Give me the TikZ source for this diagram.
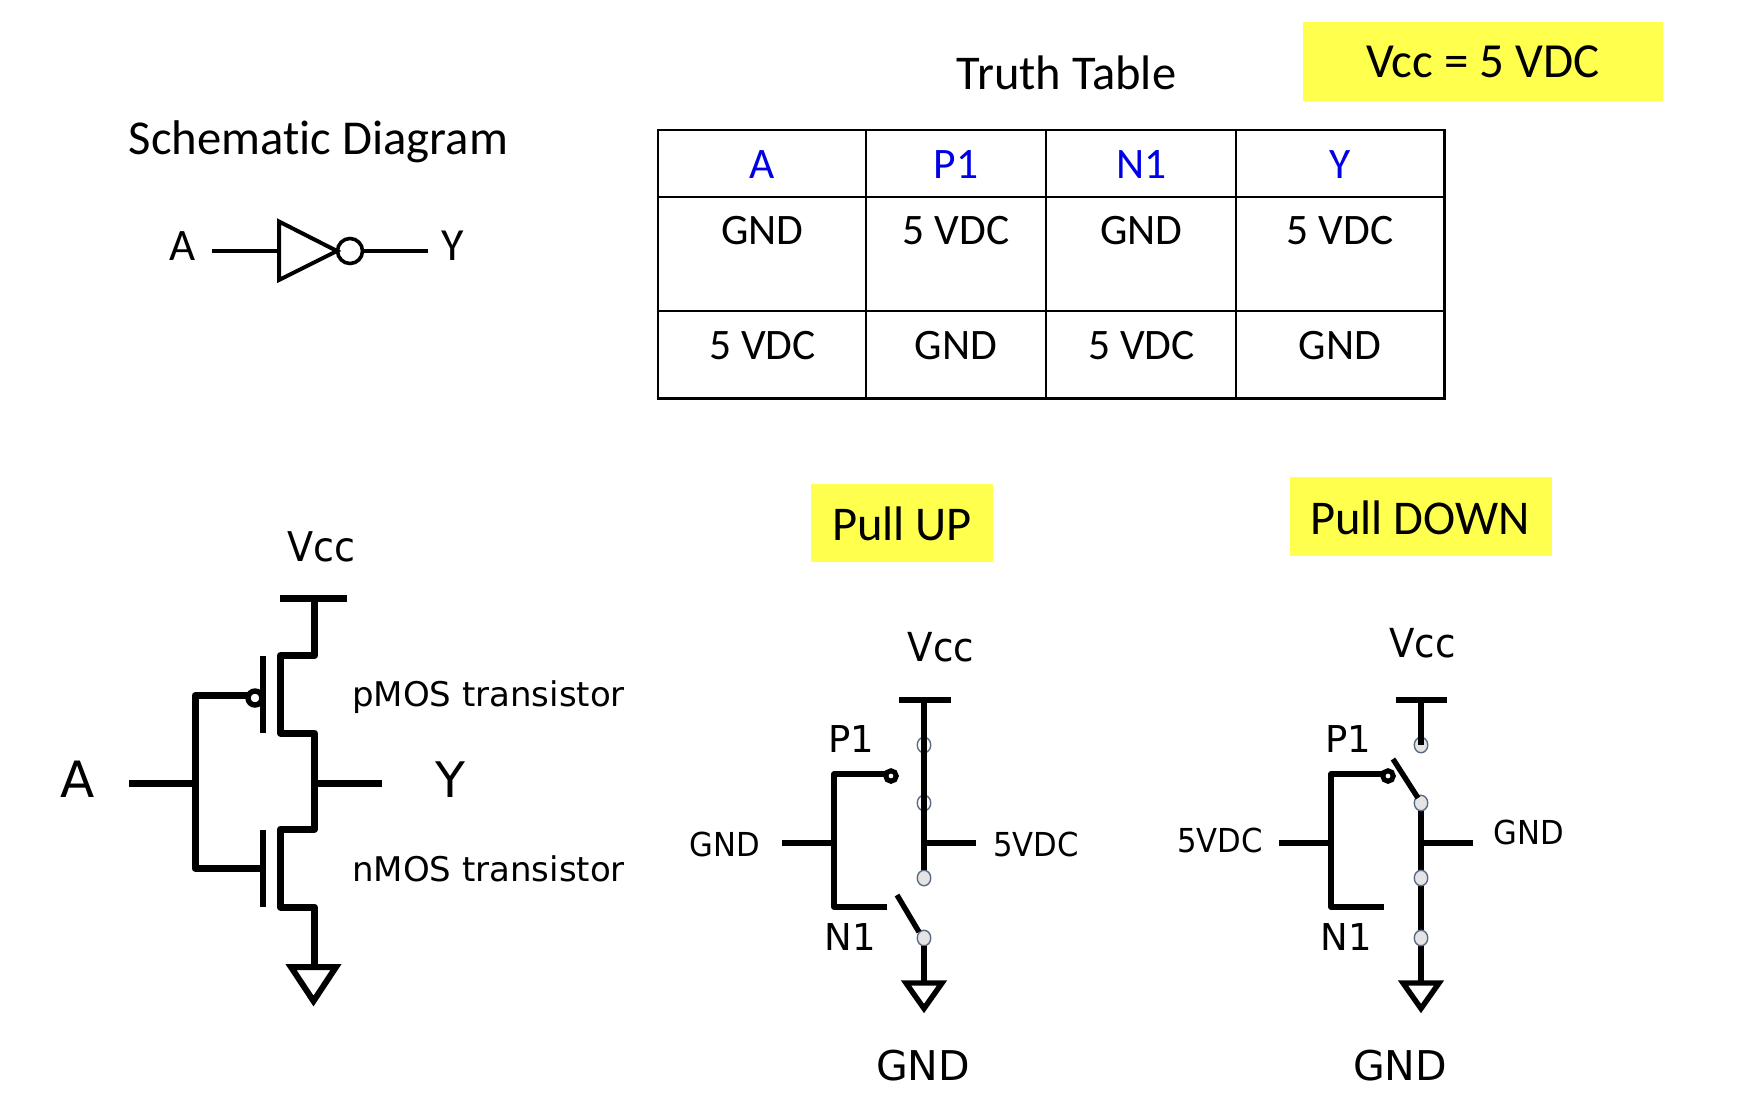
\documentclass[tikz,border=0pt]{standalone}
\usepackage{fontspec}
\usetikzlibrary{shapes.geometric}
\newfontfamily\carlito[Ligatures=NoCommon]{Carlito}
\newfontfamily\tahomaish[FakeStretch=0.93]{DejaVu Sans}
\newfontfamily\tahomawide{DejaVu Sans}
\definecolor{hl}{HTML}{FFFF4D}
\definecolor{tblue}{HTML}{0000E6}
\definecolor{dotedge}{HTML}{5A6A85}
\definecolor{dotfill}{HTML}{E4E4E4}
\tikzset{
  x=1pt,y=-1pt,
  cal/.style={inner sep=0pt,anchor=base,font=\carlito\fontsize{#1}{#1}\selectfont},
  tah/.style={inner sep=0pt,anchor=base,font=\tahomaish\fontsize{#1}{#1}\selectfont},
  taw/.style={inner sep=0pt,anchor=base,font=\tahomawide\fontsize{#1}{#1}\selectfont},
  hlbox/.style={fill=hl,draw=none},
  heavy/.style={line width=7pt,line join=round},
  wire/.style={line width=5.4pt,line join=round},
  thinw/.style={line width=4pt,line join=miter},
  grid/.style={line width=2.8pt,line cap=rect},
  dot/.style={ellipse,draw=dotedge,fill=dotfill,line width=1.4pt,minimum width=13.5pt,minimum height=15.5pt,inner sep=0pt},
  bubble/.style={circle,draw=black,fill=white,inner sep=0pt},
  gnd/.style={line join=miter,miter limit=10},
}
\begin{document}
\begin{tikzpicture}
\useasboundingbox (0,0) rectangle (1740,1106);
% yellow boxes
\fill[hlbox] (1303,22) rectangle (1663,101);
\fill[hlbox] (811,484) rectangle (993,562);
\fill[hlbox] (1290,477) rectangle (1552,556);
% titles
\node[cal=48.7] (tSchem) at (318.5,154) {Schematic Diagram};
\node[cal=48.5] (tTruth) at (1066.5,89.5) {Truth Table};
\node[cal=49] (tVcc) at (1483,77) {Vcc = 5 VDC};
\node[cal=48.5] (tUp) at (902,540) {Pull UP};
\node[cal=48.5] (tDown) at (1420,534) {Pull DOWN};
% inverter
\node[cal=45] (iA) at (183,260.5) {A};
\node[cal=46] (iY) at (453,260.5) {Y};
\coordinate (iIn) at (212,251);
\coordinate (iTa) at (279,251);
\coordinate (iOut) at (428,251);
\node[bubble,line width=3.6pt,minimum size=25pt] (iB) at (350,251) {};
\draw[thinw] (iIn) -- (iTa);
\draw[thinw] (279,221.5) -- (279,280) -- (337,251) -- cycle;
\draw[thinw] (iB) -- (iOut);
% table
\foreach \xx in {658,866,1046,1236,1444.5} \draw[grid] (\xx,130) -- (\xx,398.5);
\foreach \yy in {130,197,311,398.5} \draw[grid] (658,\yy) -- (1444.5,\yy);
\node[cal=43.5,text=tblue] (h1) at (762.5,178) {A};
\node[cal=43.5,text=tblue] (h2) at (956,178) {P1};
\node[cal=43.5,text=tblue] (h3) at (1141.5,178) {N1};
\node[cal=43.5,text=tblue] (h4) at (1340,178) {Y};
\node[cal=43.5] (a1) at (762.5,244) {GND};
\node[cal=43.5] (a2) at (956,244) {5 VDC};
\node[cal=43.5] (a3) at (1141.5,244) {GND};
\node[cal=43.5] (a4) at (1340,244) {5 VDC};
\node[cal=43.5] (b1) at (762.5,359) {5 VDC};
\node[cal=43.5] (b2) at (956,359) {GND};
\node[cal=43.5] (b3) at (1141.5,359) {5 VDC};
\node[cal=43.5] (b4) at (1340,359) {GND};
% CMOS schematic
\node[tah=41] (mVcc) at (321.5,561) {Vcc};
\node[taw=50] (mA) at (77.5,797) {A};
\node[taw=49] (mY) at (450.5,797) {Y};
\node[taw=34] (mP) at (488.5,706) {pMOS transistor};
\node[taw=34] (mN) at (488.5,881) {nMOS transistor};
\coordinate (mT1) at (280,598);
\coordinate (mT2) at (347,598);
\coordinate (mTop) at (314.5,598);
\coordinate (mGnd) at (314.5,964);
\coordinate (mOut) at (314.5,783.5);
\coordinate (mOutE) at (382,783.5);
\coordinate (mInS) at (129,783.5);
\coordinate (mInJ) at (195,783.5);
\coordinate (mGp) at (256,695.5);
\coordinate (mGn) at (263,868);
\draw[heavy] (mT1) -- (mT2);
\draw[heavy] (mTop) |- (280.5,655.5) -- (280.5,733) -| (mOut) -- (314.5,829) -- (280.5,829) -- (280.5,907) -| (mGnd);
\draw[heavy] (mOut) -- (mOutE);
\draw[heavy] (mInS) -- (mInJ);
\draw[heavy] (mGp) -| (mInJ);
\draw[heavy] (mInJ) |- (mGn);
\node[bubble,line width=5.4pt,minimum size=14pt] (mBub) at (255,698) {};
\draw[line width=6.5pt] (263,656) -- (263,733);
\draw[line width=6.5pt] (263,830) -- (263,907);
\draw[gnd,line width=6pt] (291,967) -- (336,967) -- (313.5,1001) -- cycle;
% Pull up
\node[tah=40] (uVcc) at (941,661) {Vcc};
\node[taw=37] (uP) at (851.5,752) {P1};
\node[taw=37] (uN) at (850,950) {N1};
\node[tah=33] (uGl) at (724.5,856) {GND};
\node[tah=33] (uV) at (1036,856) {5VDC};
\node[taw=41] (uGb) at (923,1080) {GND};
\coordinate (uT1) at (899,700);
\coordinate (uT2) at (951,700);
\coordinate (uTop) at (924,700);
\coordinate (uJ) at (924,843);
\coordinate (uO) at (976,843);
\coordinate (uI) at (782,843);
\coordinate (uIJ) at (834,843);
\coordinate (uNe) at (887,907);
\coordinate (uNc) at (834,907);
\coordinate (uPe) at (886,774);
\coordinate (uPc) at (834,774);
\coordinate (uSw) at (897,895);
\coordinate (uGt) at (924,984);
\draw[wire] (uT1) -- (uT2);
\draw[wire] (uO) -- (uJ);
\draw[wire] (uI) -- (uIJ);
\node[dot] (u3) at (924,878) {};
\node[dot] (u4) at (924,938) {};
\node[dot,fill=white] (u1) at (924,745) {};
\node[dot,fill=white] (u2) at (924,803) {};
\draw[wire] (uTop) -- (u3.north);
\draw[wire] (uPe) -- (uPc) -- (uNc) -- (uNe);
\node[bubble,line width=5pt,minimum size=10.5pt] (uB) at (891,776) {};
\draw[wire,line cap=butt] (uSw) -- (919,932);
\draw[wire] (u4.south) -- (uGt);
\draw[gnd,line width=5.4pt] (906,983) -- (942,983) -- (924,1008.5) -- cycle;
% Pull down
\node[tah=40] (dVcc) at (1422.5,657) {Vcc};
\node[taw=37] (dP) at (1348.5,752) {P1};
\node[taw=37] (dN) at (1346.5,950) {N1};
\node[tah=33] (dV) at (1220,852) {5VDC};
\node[tah=33] (dGr) at (1528.5,844) {GND};
\node[taw=41] (dGb) at (1400,1080) {GND};
\coordinate (dT1) at (1396,700);
\coordinate (dT2) at (1447,700);
\coordinate (dTop) at (1421,700);
\coordinate (dJ) at (1421,843);
\coordinate (dO) at (1473,843);
\coordinate (dI) at (1279,843);
\coordinate (dIJ) at (1331,843);
\coordinate (dNe) at (1384,907);
\coordinate (dNc) at (1331,907);
\coordinate (dPe) at (1383,774);
\coordinate (dPc) at (1331,774);
\coordinate (dSw) at (1393,759);
\coordinate (dGt) at (1421,984);
\draw[wire] (dT1) -- (dT2);
\draw[wire] (dO) -- (dJ);
\draw[wire] (dI) -- (dIJ);
\draw[wire] (1421,803) -- (dGt);
\node[dot] (d1) at (1421,745) {};
\node[dot] (d2) at (1421,803) {};
\node[dot] (d3) at (1421,878) {};
\node[dot] (d4) at (1421,938) {};
\draw[wire] (dTop) -- (d1.center);
\draw[wire] (dPe) -- (dPc) -- (dNc) -- (dNe);
\node[bubble,line width=5pt,minimum size=10.5pt] (dB) at (1388,776) {};
\draw[wire,line cap=butt] (dSw) -- (1418,798);
\draw[gnd,line width=5.4pt] (1403,983) -- (1439,983) -- (1421,1008.5) -- cycle;
\end{tikzpicture}
\end{document}
